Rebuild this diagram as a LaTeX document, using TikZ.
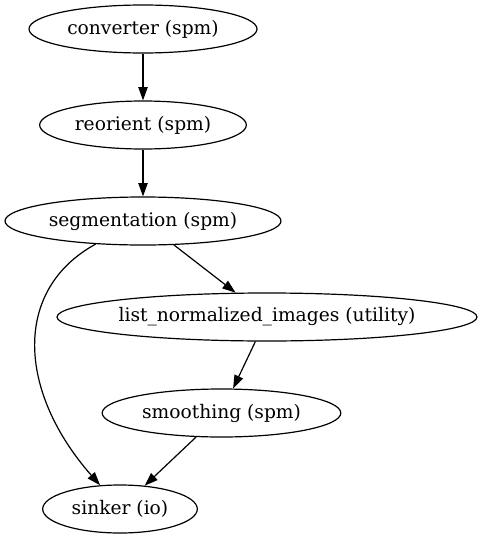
\documentclass[tikz,border=0pt]{standalone}
\usepackage{fontspec}
\setmainfont{DejaVu Serif}
\usetikzlibrary{shapes.geometric,arrows.meta}
\begin{document}
\begin{tikzpicture}[x=0.75pt,y=-0.75pt,
  nd/.style={ellipse,draw,line width=0.9pt,inner sep=0pt,minimum height=36pt,font=\fontsize{14}{16}\selectfont},
  arr/.style={-{Triangle[length=10pt,width=7pt]},line width=0.9pt}]
\useasboundingbox (0,0) rectangle (482,539);
\node[nd,minimum width=171pt] (conv) at (143,29) {converter (spm)};
\node[nd,minimum width=155pt] (reor) at (143,125) {reorient (spm)};
\node[nd,minimum width=207pt] (seg) at (143,221) {segmentation (spm)};
\node[nd,minimum width=315pt] (list) at (267,317) {list\_normalized\_images (utility)};
\node[nd,minimum width=179pt] (smooth) at (221.5,413) {smoothing (spm)};
\node[nd,minimum width=116pt] (sink) at (120,509) {sinker (io)};
\draw[arr] (conv) -- (reor);
\draw[arr] (reor) -- (seg);
\draw[arr] (seg) -- (list);
\draw[arr] (list) -- (smooth);
\draw[arr] (smooth) -- (sink);
\draw[arr] (seg.206) .. controls (12,290) and (18,392) .. (sink.130);
\end{tikzpicture}
\end{document}
